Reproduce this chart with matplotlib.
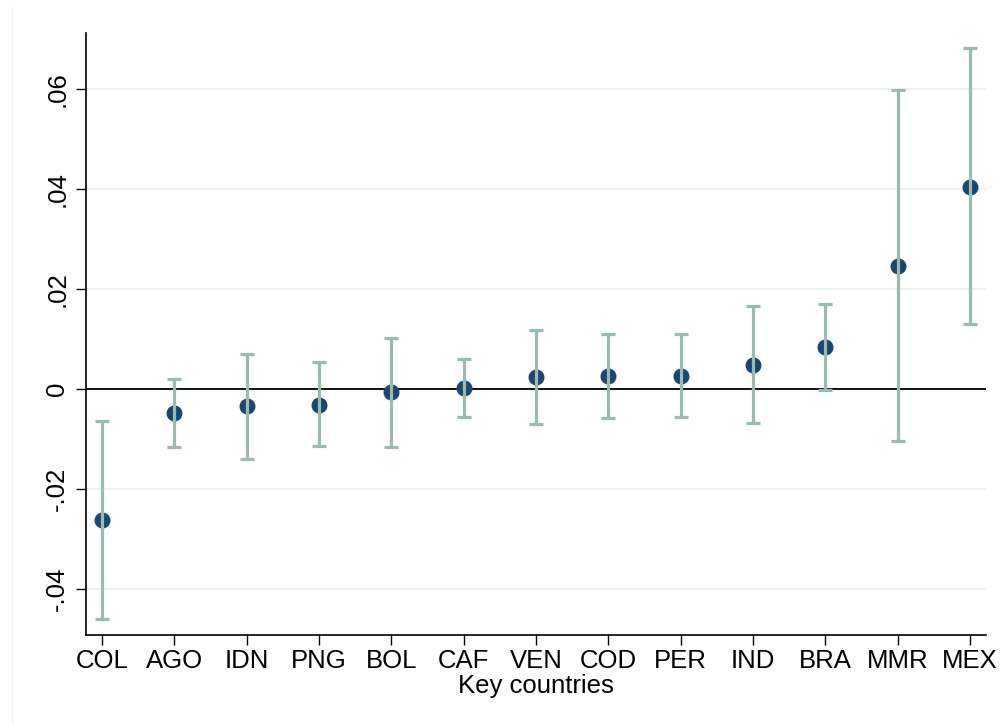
import matplotlib
matplotlib.use("Agg")
import matplotlib.pyplot as plt
from matplotlib.lines import Line2D

countries = ["COL", "AGO", "IDN", "PNG", "BOL", "CAF", "VEN", "COD", "PER", "IND", "BRA", "MMR", "MEX"]
estimate = [-0.0261, -0.0048, -0.0034, -0.0031, -0.0006, 0.0003, 0.0025, 0.0026, 0.0027, 0.0049, 0.0084, 0.0247, 0.0405]
ci_upper = [-0.0063, 0.0021, 0.0071, 0.0054, 0.0103, 0.0061, 0.0119, 0.0111, 0.0110, 0.0167, 0.0170, 0.0598, 0.0682]
ci_lower = [-0.0459, -0.0116, -0.0139, -0.0114, -0.0115, -0.0055, -0.0069, -0.0058, -0.0055, -0.0067, -0.0001, -0.0104, 0.0130]
yticks = [-0.04, -0.02, 0.0, 0.02, 0.04, 0.06]
ytick_labels = ["-.04", "-.02", "0", ".02", ".04", ".06"]

plt.rcParams['font.family'] = ['Liberation Sans', 'DejaVu Sans']

fig = plt.figure(figsize=(10.02, 7.25), dpi=100)
ax = fig.add_axes([86/1002, (725-634.7)/725, (986-86)/1002, (634.7-33)/725])

x = list(range(len(countries)))
ci_color = "#9dbab2"
pt_color = "#1a476f"

for yt in yticks:
    ax.axhline(yt, color="#eaf2f3", lw=1.5, zorder=0)
ax.axhline(0, color="black", lw=1.3, zorder=1)

ax.plot(x, estimate, "o", color=pt_color, ms=10.5, zorder=2, ls="none")
err_lo = [e - l for e, l in zip(estimate, ci_lower)]
err_hi = [u - e for e, u in zip(estimate, ci_upper)]
ax.errorbar(x, estimate, yerr=[err_lo, err_hi], fmt="none", ecolor=ci_color,
            elinewidth=2.3, capsize=5, capthick=2.3, zorder=3)

ax.set_xlim(-0.22, 12.22)
ax.set_ylim(-0.04908, 0.07126)
ax.set_xticks(x)
ax.set_xticklabels(countries, fontsize=18.5)
ax.set_yticks(yticks)
ax.set_yticklabels(ytick_labels, fontsize=18.5, rotation=90, va="center")
ax.tick_params(axis="both", length=7, width=1.0, color="black")
ax.tick_params(axis="x", pad=3)
ax.tick_params(axis="y", pad=5)
ax.set_xlabel("Key countries", fontsize=18.5, labelpad=1)

for s in ["top", "right"]:
    ax.spines[s].set_visible(False)
for s in ["left", "bottom"]:
    ax.spines[s].set_linewidth(1.2)
    ax.spines[s].set_color("black")

fig.add_artist(Line2D([12/1002, 12/1002], [0, 1 - 7/725], transform=fig.transFigure,
                      color="#eaf2f3", lw=1))

fig.savefig("out.png", dpi=100)
